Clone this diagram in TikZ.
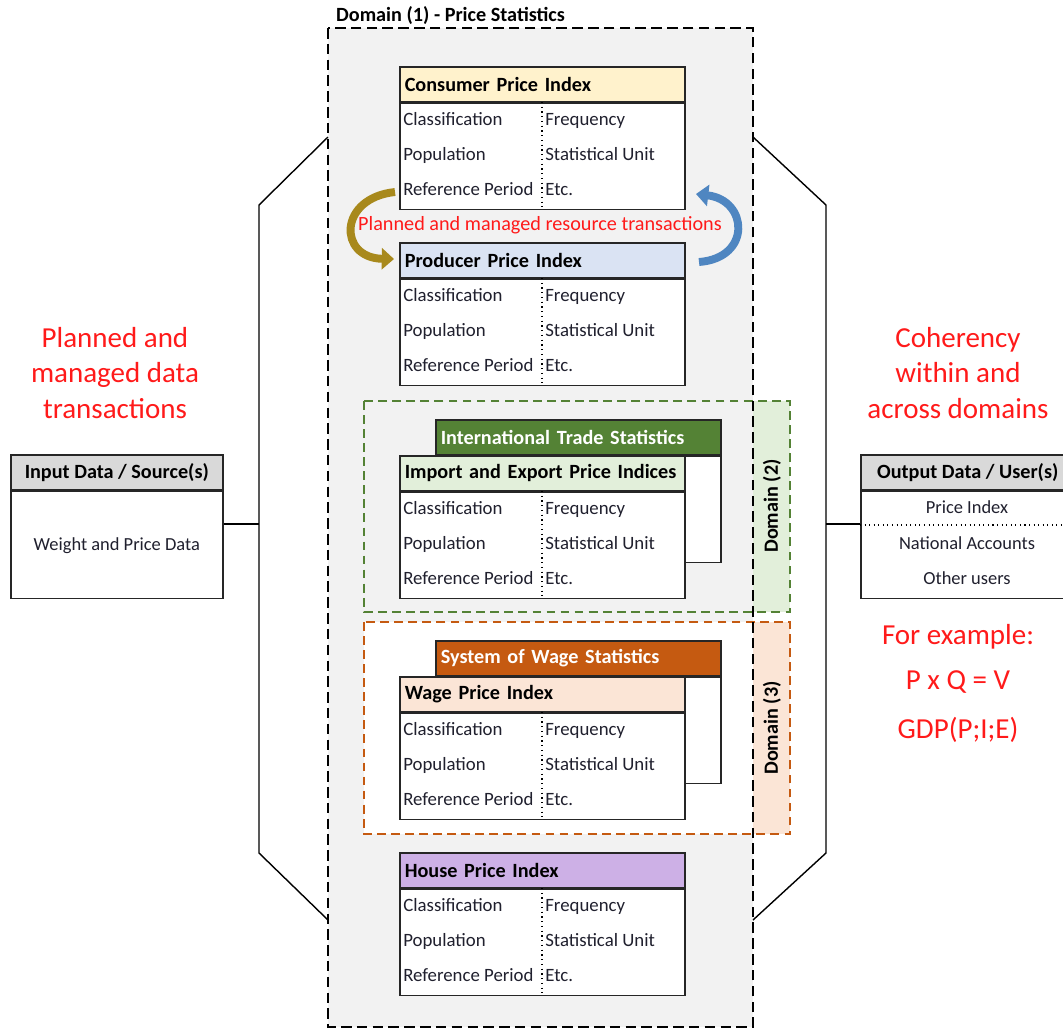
\documentclass[tikz,border=0pt]{standalone}
\usepackage{fontspec}
\setmainfont{Carlito}
\usetikzlibrary{arrows.meta}
\definecolor{bgG}{HTML}{F2F2F2}
\definecolor{hdG}{HTML}{D9D9D9}
\definecolor{cpiH}{HTML}{FFF2CC}
\definecolor{ppiH}{HTML}{DAE3F3}
\definecolor{hpiH}{HTML}{CDB0E6}
\definecolor{d2C}{HTML}{548235}
\definecolor{d2L}{HTML}{E2EFDA}
\definecolor{d3C}{HTML}{C55A11}
\definecolor{d3L}{HTML}{FBE5D6}
\definecolor{goldC}{HTML}{A8891C}
\definecolor{blueC}{HTML}{4F86C1}
\definecolor{redC}{HTML}{FF1A1A}
\definecolor{txtC}{HTML}{20202E}
\newcommand\hd{\bfseries\fontsize{11.5}{13}\selectfont}
\begin{document}
\begin{tikzpicture}[x=.02cm,y=-.02cm,
  box/.style={draw=black!85,line width=.9pt},
  hdbox/.style={box,anchor=north west,minimum width=5.7cm,minimum height=.7cm,text width=5.5cm,inner xsep=.1cm,inner ysep=0pt,align=left,font=\hd},
  bdbox/.style={box,fill=white,anchor=north west,minimum width=5.7cm,minimum height=2.12cm,inner sep=0pt},
  tx/.style={anchor=west,inner sep=0pt,text height=1.6ex,text depth=.3ex,text=txtC,font=\fontsize{10.7}{13}\selectfont},
  sm/.style={inner sep=0pt,text height=1.6ex,text depth=.3ex,text=txtC,font=\fontsize{10.5}{12}\selectfont},
  big/.style={text=redC,align=center,font=\fontsize{16.5}{20}\selectfont},
  brk/.style={line width=.8pt}]
\useasboundingbox (0,0) rectangle (1063,1029);
% domains
\fill[bgG] (328,28) rectangle (753,1027);
\fill[d2L] (753,401) rectangle (790,612);
\fill[white] (364,622) rectangle (753,834);
\fill[d3L] (753,622) rectangle (790,834);
\draw[d2C,line width=1.3pt,dash pattern=on 5pt off 3pt] (364,401) rectangle (790,612);
\draw[d3C,line width=1.3pt,dash pattern=on 5pt off 3pt] (364,622) rectangle (790,834);
\draw[line width=1.6pt,dash pattern=on 6pt off 3pt] (328,28) rectangle (753,1027);
\node[anchor=west,font=\hd] (d1) at (330,16) {Domain (1) - Price Statistics};
\node[rotate=90,font=\hd] (d2) at (772,506) {Domain (2)};
\node[rotate=90,font=\hd] (d3) at (772,728) {Domain (3)};
% systems behind
\node[hdbox,fill=d2C,text=white] (its) at (435,419) {International Trade Statistics};
\node[bdbox] (its-b) at (its.south west) {};
\node[hdbox,fill=d3C,text=white] (wss) at (435,640) {System of Wage Statistics};
\node[bdbox] (wss-b) at (wss.south west) {};
% index cards
\foreach \id/\y/\t/\c in {cpi/66/Consumer Price Index/cpiH, ppi/242/Producer Price Index/ppiH, iep/455/Import and Export Price Indices/d2L, wpi/676/Wage Price Index/d3L, hpi/852/House Price Index/hpiH}{
  \node[hdbox,fill=\c] (\id) at (399,\y) {\t};
  \node[bdbox] (\id-b) at (\id.south west) {};
  \draw[dotted,line width=.7pt] (542,\y+36) -- (542,\y+141);
  \node[tx] (\id-1) at (403,\y+54) {Classification};
  \node[tx] (\id-2) at (403,\y+89) {Population};
  \node[tx] (\id-3) at (403,\y+124) {Reference Period};
  \node[tx] (\id-4) at (545,\y+54) {Frequency};
  \node[tx] (\id-5) at (545,\y+89) {Statistical Unit};
  \node[tx] (\id-6) at (545,\y+124) {Etc.};
}
% resource arrows
\draw[goldC,line width=4.5pt,-{Triangle[width=12pt,length=7pt]}] (395,192) .. controls (338,198) and (338,258) .. (394,259);
\draw[blueC,line width=4.5pt,-{Triangle[width=12pt,length=7pt]}] (699,262) .. controls (752,258) and (748,200) .. (696,194);
\node[text=redC,font=\fontsize{11.5}{13}\selectfont] (res) at (540,225) {Planned and managed resource transactions};
% brackets
\coordinate (lt) at (328,137); \coordinate (l1) at (259,205); \coordinate (l2) at (259,853); \coordinate (lb) at (328,920);
\coordinate (rt) at (753,137); \coordinate (r1) at (826,205); \coordinate (r2) at (826,853); \coordinate (rb) at (753,920);
\coordinate (lm) at (259,524); \coordinate (rm) at (826,524);
\draw[brk] (lt) -- (l1) -- (l2) -- (lb);
\draw[brk] (rt) -- (r1) -- (r2) -- (rb);
% input and output
\node[box,fill=hdG,anchor=north west,minimum width=4.24cm,minimum height=.7cm,inner sep=0pt,font=\hd] (inp) at (10,454) {Input Data / Source(s)};
\node[box,fill=white,anchor=north west,minimum width=4.24cm,minimum height=2.14cm,inner sep=0pt,sm] (inp-b) at (inp.south west) {Weight and Price Data};
\node[box,fill=hdG,anchor=north west,minimum width=4.28cm,minimum height=.7cm,inner sep=0pt,font=\hd] (out) at (860,454) {Output Data / User(s)};
\node[box,fill=white,anchor=north west,minimum width=4.28cm,minimum height=2.14cm,inner sep=0pt] (out-b) at (out.south west) {};
\path (967,508) node[sm] (o1) {Price Index} ++(0,36) node[sm] (o2) {National Accounts} ++(0,35) node[sm] (o3) {Other users};
\draw[dotted,line width=.6pt] (out-b.west |- 0,525) -- (out-b.east |- 0,525);
\draw[brk] (inp-b.east |- lm) -- (lm);
\draw[brk] (rm) -- (out-b.west |- rm);
% red notes
\node[big] (pl) at (115,373) {Planned and\\managed data\\transactions};
\node[big] (co) at (958,373) {Coherency\\within and\\across domains};
\path (958,637) node[big] (ex1) {For example:} ++(0,45) node[big] (ex2) {P x Q = V} ++(0,48) node[big] (ex3) {GDP(P;I;E)};
\end{tikzpicture}
\end{document}
